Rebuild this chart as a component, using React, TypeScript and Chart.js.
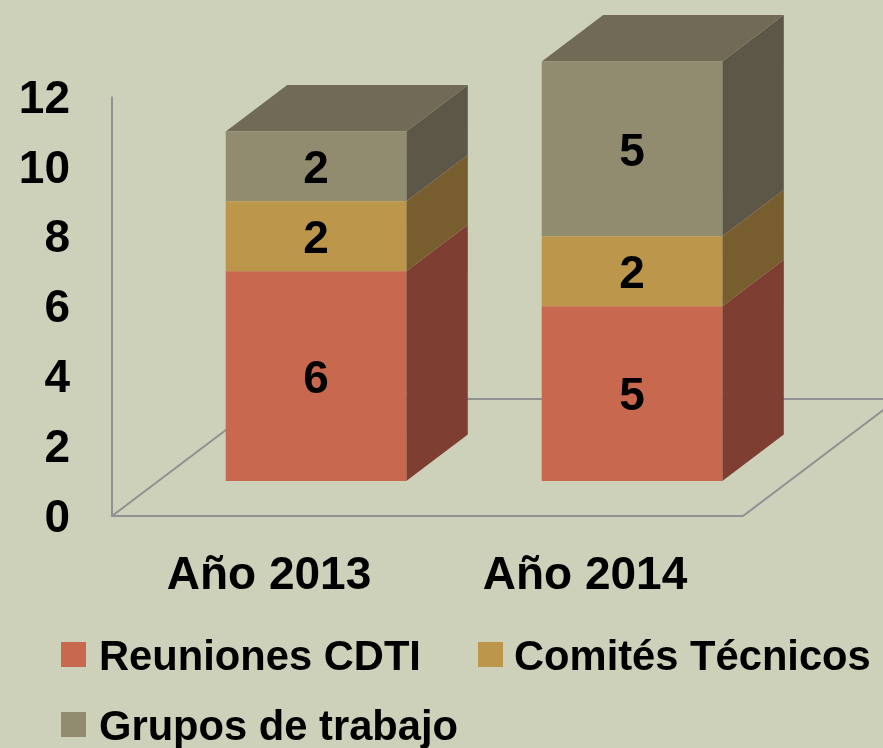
import React, { useEffect, useRef } from "react";
import { Chart, registerables } from "chart.js";

Chart.register(...registerables);

const categories = ["Año 2013", "Año 2014"];
const reuniones = [6, 5];
const comites = [2, 2];
const grupos = [2, 5];
const yTicks = [0, 2, 4, 6, 8, 10, 12];

const FONT_FAMILY = '"Liberation Sans", Arial, sans-serif';
const BG = "#CDD1BA";
const AXIS_LINE = "#8F9192";
const DEPTH_X = 61.5;
const DEPTH_Y = 46.5;
const fronts = ["#C7684F", "#BC974B", "#918C6F"];
const sides = ["#7E3F32", "#785E2F", "#5C5746"];
const ROOF = "#706A56";

const poly = (ctx: CanvasRenderingContext2D, pts: number[][], fill: string) => {
  ctx.beginPath();
  pts.forEach((p, i) => (i ? ctx.lineTo(p[0], p[1]) : ctx.moveTo(p[0], p[1])));
  ctx.closePath();
  ctx.fillStyle = fill;
  ctx.fill();
};

const threeD = {
  id: "threeD",
  beforeDatasetsDraw(chart: any) {
    const ctx = chart.ctx as CanvasRenderingContext2D;
    const y = chart.scales.y;
    const left = 112;
    const floorFront = y.getPixelForValue(0) + 35;
    const axisTop = y.getPixelForValue(12) + 35;
    const right = 743;
    const backDx = 155;
    const backDy = 117;
    ctx.save();
    ctx.strokeStyle = AXIS_LINE;
    ctx.lineWidth = 2;
    ctx.beginPath();
    ctx.moveTo(left, axisTop);
    ctx.lineTo(left, floorFront);
    ctx.lineTo(right, floorFront);
    ctx.lineTo(right + backDx, floorFront - backDy);
    ctx.moveTo(left, floorFront);
    ctx.lineTo(left + backDx, floorFront - backDy);
    ctx.lineTo(right + backDx, floorFront - backDy);
    ctx.stroke();
    ctx.restore();

    const metas = chart.data.datasets.map((_: any, i: number) => chart.getDatasetMeta(i));
    metas.forEach((meta: any, di: number) => {
      meta.data.forEach((el: any) => {
        const x2 = el.x + el.width / 2;
        const x1 = el.x - el.width / 2;
        poly(ctx, [[x2, el.base], [x2, el.y], [x2 + DEPTH_X, el.y - DEPTH_Y], [x2 + DEPTH_X, el.base - DEPTH_Y]], sides[di]);
        if (di === metas.length - 1) {
          poly(ctx, [[x1, el.y], [x2, el.y], [x2 + DEPTH_X, el.y - DEPTH_Y], [x1 + DEPTH_X, el.y - DEPTH_Y]], ROOF);
        }
      });
    });
  },
  afterDatasetsDraw(chart: any) {
    const ctx = chart.ctx as CanvasRenderingContext2D;
    ctx.save();
    ctx.fillStyle = "#000";
    ctx.font = `bold 46px ${FONT_FAMILY}`;
    ctx.textAlign = "center";
    ctx.textBaseline = "middle";
    chart.data.datasets.forEach((ds: any, di: number) => {
      chart.getDatasetMeta(di).data.forEach((el: any, i: number) => {
        ctx.fillText(String(ds.data[i]), el.x, (el.y + el.base) / 2 + 4);
      });
    });
    // legend
    ctx.font = `bold 41.7px ${FONT_FAMILY}`;
    ctx.textAlign = "left";
    const slots = [
      [61, 642, 99],
      [478, 642, 514],
      [61, 712, 99],
    ];
    chart.data.datasets.forEach((ds: any, di: number) => {
      const [sx, sy, tx] = slots[di];
      ctx.fillStyle = fronts[di];
      ctx.fillRect(sx, sy, 25, 25);
      ctx.fillStyle = "#000";
      ctx.fillText(ds.label, tx, sy + 17);
    });
    ctx.restore();
  },
};

export default function App() {
  const ref = useRef<HTMLCanvasElement>(null);
  useEffect(() => {
    document.body.style.margin = "0";
    const chart = new Chart(ref.current as HTMLCanvasElement, {
      type: "bar",
      plugins: [threeD],
      data: {
        labels: categories,
        datasets: [
          { label: "Reuniones CDTI", data: reuniones, backgroundColor: fronts[0] },
          { label: "Comités Técnicos", data: comites, backgroundColor: fronts[1] },
          { label: "Grupos de trabajo", data: grupos, backgroundColor: fronts[2] },
        ],
      },
      options: {
        responsive: false,
        animation: false,
        layout: { padding: { top: 26.5, right: 93, left: 0, bottom: 0 } },
        datasets: { bar: { categoryPercentage: 1, barPercentage: 180.6 / 316 } },
        plugins: { legend: { display: false }, tooltip: { enabled: false } },
        scales: {
          x: {
            stacked: true,
            grid: { display: false, drawTicks: false },
            border: { display: false },
            afterFit: (s: any) => {
              s.height = 267;
              s.paddingLeft = 0;
              s.paddingRight = 0;
            },
            ticks: {
              color: "#000",
              font: { family: FONT_FAMILY, size: 46, weight: "bold" },
              padding: 68,
              labelOffset: -47,
              autoSkip: false,
              maxRotation: 0,
            },
          },
          y: {
            stacked: true,
            min: 0,
            max: 13,
            grid: { display: false, drawTicks: false },
            border: { display: false },
            afterFit: (s: any) => {
              s.width = 158;
              s.paddingTop = 0;
              s.paddingBottom = 0;
            },
            afterBuildTicks: (s: any) => {
              s.ticks = yTicks.map((value) => ({ value }));
            },
            ticks: {
              color: "#000",
              font: { family: FONT_FAMILY, size: 46, weight: "bold" },
              padding: 88,
              labelOffset: 38.5,
              includeBounds: false,
            },
          },
        },
      } as any,
    });
    return () => chart.destroy();
  }, []);
  return (
    <div style={{ width: 883, height: 748, background: BG }}>
      <canvas ref={ref} width={883} height={748} style={{ display: "block" }} />
    </div>
  );
}
